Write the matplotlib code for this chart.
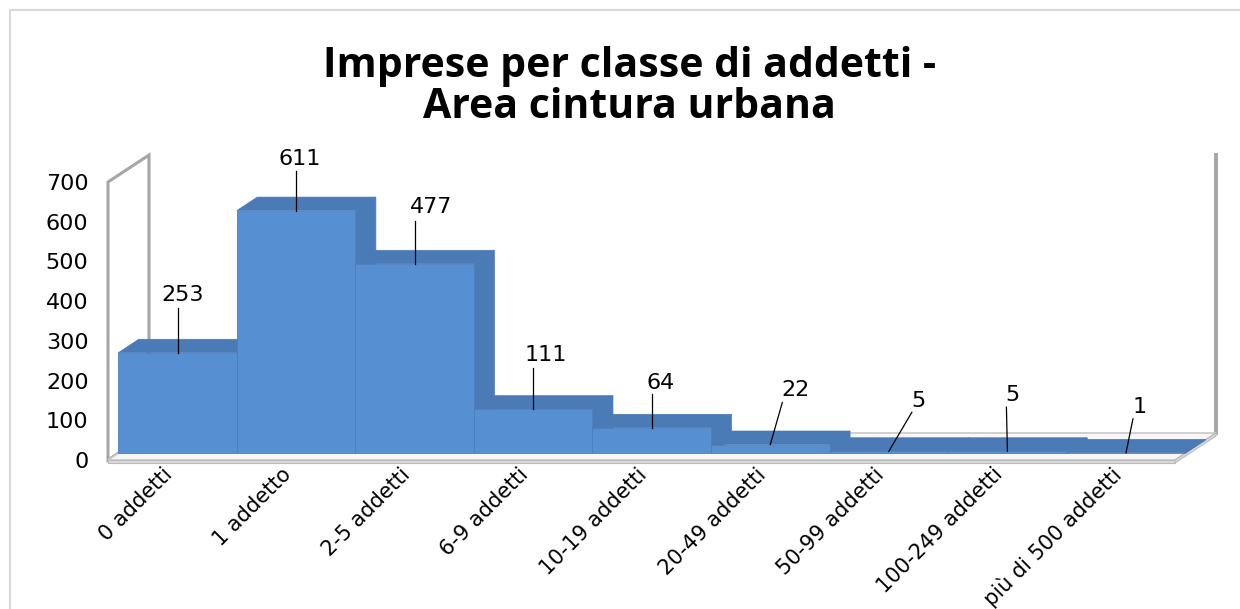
import matplotlib
matplotlib.use("Agg")
import matplotlib.pyplot as plt
from matplotlib.patches import Polygon, Rectangle
from matplotlib.lines import Line2D

# ---------------- data ----------------
categories = ["0 addetti", "1 addetto", "2-5 addetti", "6-9 addetti", "10-19 addetti",
              "20-49 addetti", "50-99 addetti", "100-249 addetti", "più di 500 addetti"]
values = [253, 611, 477, 111, 64, 22, 5, 5, 1]
yticks = [0, 100, 200, 300, 400, 500, 600, 700]
title = "Imprese per classe di addetti -\nArea cintura urbana"

# ---------------- style / layout ----------------
W, H = 1240, 609
FRONT = "#568FD2"
TOP = "#4A7BB7"
EDGE = "#4C80C0"
WALL = "#A6A6A6"

# label offsets in pixels from bar front-top-centre: (line_dx, line_up, text_dx, text_up)
label_off = [(0, 45, 5, 58), (0, 40, 4, 52), (0, 43, 16, 57), (0, 41, 13, 54),
             (0, 34, 9, 45), (12, 42, 25, 55), (23, 39, 30, 50), (-1, 44, 5, 56),
             (7, 34, 14, 46)]

fig = plt.figure(figsize=(W / 100, H / 100), dpi=100)
px_left, px_right = 108, 1175
px_base, px_top = 460, 182
ax = fig.add_axes([px_left / W, (H - px_base) / H, (px_right - px_left) / W,
                   (px_base - px_top) / H])
n = len(values)
ymax = yticks[-1]
ax.set_xlim(0, n)
ax.set_ylim(0, ymax)
for s in ax.spines.values():
    s.set_visible(False)

cat_px = (px_right - px_left) / n
val_px = (px_base - px_top) / ymax
DX = 41 / cat_px          # depth offset in category units
DY = 27 / val_px          # depth offset in value units

def P(x, v, d):
    return (x + d * DX, v + d * DY)

# walls
ax.add_patch(Polygon([P(0, 0, 0), P(0, ymax, 0), P(0, ymax, 1), P(0, 0, 1)],
                     closed=True, facecolor="white", edgecolor=WALL, lw=2.2,
                     clip_on=False, zorder=1))
ax.add_line(Line2D([P(n, 0, 1)[0], P(n, ymax, 1)[0]], [P(n, 0, 1)[1], P(n, ymax, 1)[1]],
                   color=WALL, lw=2.8, clip_on=False, zorder=1))
# floor
t = 3 / val_px
ax.add_patch(Polygon([P(0, 0, 0), P(n, 0, 0), P(n, 0, 1), P(0, 0, 1)], closed=True,
                     facecolor="#F7F7F7", edgecolor="#C8C8C8", lw=1.2, clip_on=False, zorder=2))
ax.add_patch(Polygon([P(0, 0, 0), P(n, 0, 0), P(n, -t, 0), P(0, -t, 0)], closed=True,
                     facecolor="#DADADA", edgecolor="#BBBBBB", lw=0.8, clip_on=False, zorder=2))
ax.add_patch(Polygon([P(n, 0, 0), P(n, 0, 1), P(n, -t, 1), P(n, -t, 0)], closed=True,
                     facecolor="#DADADA", edgecolor="#BBBBBB", lw=0.8, clip_on=False, zorder=2))

# bars (painter's order, left to right)
d0, d1 = 0.25, 0.75
for i, v in enumerate(values):
    x0, x1 = i, i + 1
    z = 3 + i * 0.1
    ax.add_patch(Polygon([P(x1, 0, d0), P(x1, 0, d1), P(x1, v, d1), P(x1, v, d0)], closed=True,
                         facecolor=TOP, edgecolor=TOP, lw=0.5, clip_on=False, zorder=z))
    ax.add_patch(Polygon([P(x0, v, d0), P(x1, v, d0), P(x1, v, d1), P(x0, v, d1)], closed=True,
                         facecolor=TOP, edgecolor=TOP, lw=0.5, clip_on=False, zorder=z + 0.01))
    ax.add_patch(Rectangle(P(x0, 0, d0), 1, v, facecolor=FRONT, edgecolor=EDGE, lw=0.6,
                           clip_on=False, zorder=z + 0.02))

# data labels with leader lines
for i, v in enumerate(values):
    ax_x, ax_y = P(i + 0.5, v, d0)
    ldx, ldy, tdx, tdy = label_off[i]
    lx, ly = ax_x + ldx / cat_px, ax_y + ldy / val_px
    ax.add_line(Line2D([ax_x, lx], [ax_y, ly], color="black", lw=0.9, clip_on=False, zorder=10))
    ax.text(ax_x + tdx / cat_px, ax_y + tdy / val_px, str(v), ha="center", va="center",
            fontsize=16, family="DejaVu Sans", zorder=11)

# axes ticks
ax.set_yticks(yticks)
ax.set_yticklabels([str(v) for v in yticks], fontsize=16, family="DejaVu Sans")
ax.tick_params(axis="y", length=0, pad=14)
ax.set_xticks([i + 0.46 for i in range(n)])
ax.set_xticklabels(categories, rotation=45, ha="right", rotation_mode="anchor",
                   fontsize=15, family="DejaVu Sans")
ax.tick_params(axis="x", length=0, pad=3)

fig.text(0.508, 1 - 87 / H, title, ha="center", va="center", fontsize=29.5,
         fontweight="bold", family="Open Sans", linespacing=0.97)

# chart border
fig.add_artist(Line2D([10 / W, 1.0], [1 - 10 / H, 1 - 10 / H], color="#D9D9D9", lw=1.5,
                      transform=fig.transFigure))
fig.add_artist(Line2D([10 / W, 10 / W], [0, 1 - 10 / H], color="#D9D9D9", lw=1.5,
                      transform=fig.transFigure))

fig.savefig("out.png", dpi=100)
